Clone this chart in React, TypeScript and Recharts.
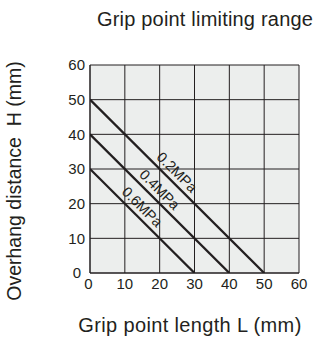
import { LineChart, Line, XAxis, YAxis, CartesianGrid, ReferenceDot } from 'recharts'

// each pressure line runs from (0, maxOverhang) down to (maxLength, 0)
const pressures = ['0.2MPa', '0.4MPa', '0.6MPa']
const maxOverhang = [50, 40, 30]
const maxLength = [50, 40, 30]
const xTicks = [0, 10, 20, 30, 40, 50, 60]
const yTicks = [0, 10, 20, 30, 40, 50, 60]

const FONT = '"Liberation Sans", Arial, Helvetica, sans-serif'
const INK = '#231f20'

function lineLabel(text: string) {
  return (props: any) => {
    const vb = props.viewBox || {}
    const cx = vb.x + (vb.width || 0) / 2
    const cy = vb.y + (vb.height || 0) / 2
    return (
      <text
        x={cx - 10}
        y={cy - 5}
        transform={`rotate(45 ${cx} ${cy})`}
        textAnchor="middle"
        fontSize={14.5}
        fontFamily={FONT}
        fill={INK}
      >
        {text}
      </text>
    )
  }
}

// the zero labels sit a little off in the original
function XTick(props: any) {
  const { x, y, payload } = props
  const shift = payload.value === 0 ? -1.5 : 0
  return (
    <text x={x + shift} y={y} dy="0.71em" textAnchor="middle" fontSize={15} fontFamily={FONT} fill={INK}>
      {payload.value}
    </text>
  )
}

function YTick(props: any) {
  const { x, y, payload } = props
  const shift = payload.value === 0 ? -4 : 0
  return (
    <text x={x + shift} y={y} dy="0.355em" textAnchor="end" fontSize={15} fontFamily={FONT} fill={INK}>
      {payload.value}
    </text>
  )
}

export default function App() {
  return (
    <div style={{ position: 'absolute', left: 0, top: 0, width: 316, height: 340, background: '#fff' }}>
      <LineChart width={316} height={340} margin={{ top: 65, right: 17, bottom: 37, left: 30 }}>
        <CartesianGrid stroke={INK} strokeWidth={1} fill="#eceeed" fillOpacity={1} />
        <XAxis
          dataKey="L"
          type="number"
          domain={[0, 60]}
          ticks={xTicks}
          allowDataOverflow
          stroke={INK}
          tickLine={false}
          tickSize={5}
          tickMargin={0}
          tick={<XTick />}
        />
        <YAxis
          type="number"
          domain={[0, 60]}
          ticks={yTicks}
          allowDataOverflow
          width={60}
          stroke={INK}
          tickLine={false}
          tickSize={5}
          tickMargin={0}
          tick={<YTick />}
        />
        {pressures.map((p, i) => (
          <Line
            key={p}
            name={p}
            data={[
              { L: 0, H: maxOverhang[i] },
              { L: maxLength[i], H: 0 },
            ]}
            dataKey="H"
            type="linear"
            stroke={INK}
            strokeWidth={2.3}
            dot={false}
            activeDot={false}
            isAnimationActive={false}
          />
        ))}
        {pressures.map((p, i) => (
          <ReferenceDot
            key={'lbl' + p}
            x={maxLength[i] / 2}
            y={maxOverhang[i] / 2}
            r={0}
            fill="none"
            stroke="none"
            label={lineLabel(p)}
          />
        ))}
        <text x={205} y={26} textAnchor="middle" fontSize={20} letterSpacing={0.2} fontFamily={FONT} fill={INK}>
          Grip point limiting range
        </text>
        <text x={190} y={332} textAnchor="middle" fontSize={20} letterSpacing={0.35} fontFamily={FONT} fill={INK}>
          Grip point length L (mm)
        </text>
        <text
          x={14}
          y={181}
          transform="rotate(-90 14 181)"
          textAnchor="middle"
          dominantBaseline="central"
          fontSize={19.5}
          fontFamily={FONT}
          fill={INK}
        >
          {'Overhang distance\u00a0 H (mm)'}
        </text>
      </LineChart>
    </div>
  )
}
